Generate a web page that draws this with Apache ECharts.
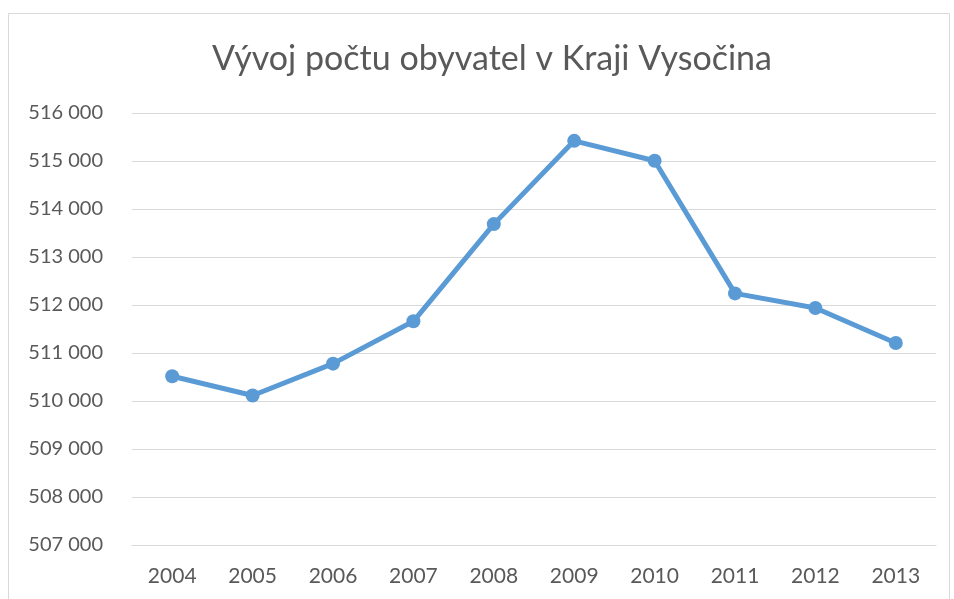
<!DOCTYPE html>
<html>
<head>
<meta charset="utf-8">
<script src="https://cdn.jsdelivr.net/npm/echarts@6/dist/echarts.min.js"></script>
<style>
  html, body { margin: 0; padding: 0; background: #fff; }
  #chart { width: 954px; height: 599px; }
</style>
</head>
<body>
<div id="chart"></div>
<script>
const years = ['2004', '2005', '2006', '2007', '2008', '2009', '2010', '2011', '2012', '2013'];
const population = [510515, 510115, 510778, 511660, 513685, 515420, 515005, 512242, 511937, 511208];
const yMin = 507000;
const yMax = 516000;
const yStep = 1000;

function spaced(v) {
  return String(v).replace(/\B(?=(\d{3})+(?!\d))/g, ' ');
}

const chart = echarts.init(document.getElementById('chart'));

chart.setOption({
  animation: false,
  title: {
    text: 'Vývoj počtu obyvatel v Kraji Vysočina',
    left: 207,
    top: 37,
    textStyle: {
      fontFamily: 'Lato',
      fontWeight: 400,
      fontSize: 34,
      color: '#595959'
    }
  },
  graphic: [{
    type: 'rect',
    shape: { x: 8.5, y: 13.5, width: 941, height: 600 },
    style: { fill: 'none', stroke: '#D9D9D9', lineWidth: 1 }
  }],
  grid: { left: 132, right: 18, top: 113, bottom: 54 },
  xAxis: {
    type: 'category',
    data: years,
    boundaryGap: true,
    axisLine: { lineStyle: { color: '#D9D9D9', width: 1 } },
    axisTick: { show: false },
    axisLabel: {
      color: '#595959',
      fontFamily: 'Lato',
      fontSize: 21,
      margin: 21
    }
  },
  yAxis: {
    type: 'value',
    min: yMin,
    max: yMax,
    interval: yStep,
    axisLine: { show: false },
    axisTick: { show: false },
    splitLine: { lineStyle: { color: '#D9D9D9', width: 1 } },
    axisLabel: {
      color: '#595959',
      fontFamily: 'Lato',
      fontSize: 20,
      margin: 29,
      formatter: spaced
    }
  },
  series: [{
    type: 'line',
    data: population,
    symbol: 'circle',
    symbolSize: 14,
    lineStyle: { color: '#5B9BD5', width: 5 },
    itemStyle: { color: '#5B9BD5' }
  }]
});
</script>
</body>
</html>
